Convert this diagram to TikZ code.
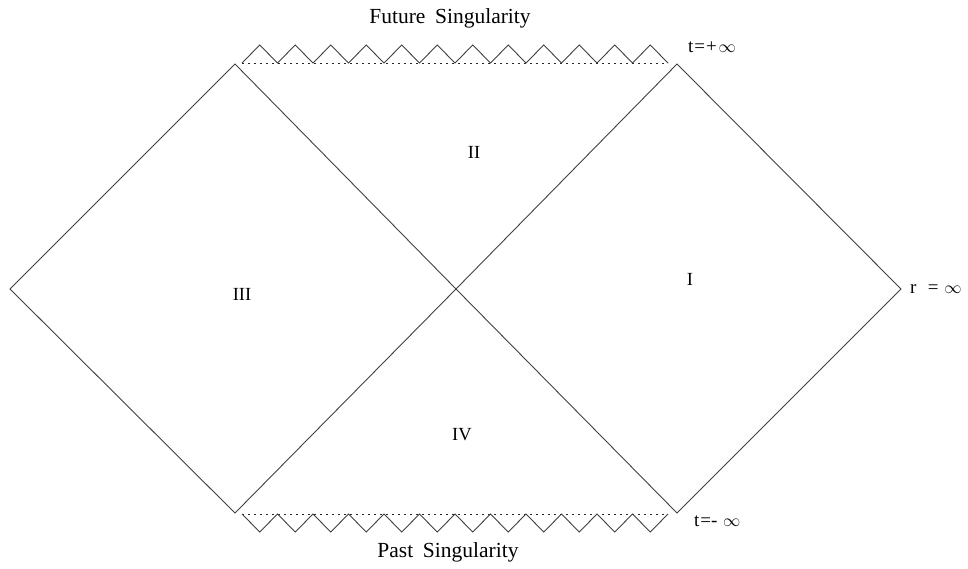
\documentclass[tikz,border=0pt]{standalone}
\usepackage{fontspec}
\setmainfont{Liberation Serif}
\begin{document}
\begin{tikzpicture}[x=1pt,y=-1pt,
  edge/.style={draw=black!75, line width=0.9pt},
  horizon/.style={draw=black!85, line width=1pt, dash pattern=on 1.6pt off 4.4pt},
  region/.style={font=\fontsize{18.5}{21}\selectfont, inner sep=0pt},
  caption/.style={font=\fontsize{21.5}{24}\selectfont, inner sep=0pt},
  tag/.style={font=\fontsize{19}{22}\selectfont, inner sep=0pt, anchor=west}]
\useasboundingbox (0,0) rectangle (968,568);

% corners of the conformal diagram
\coordinate (L)  at (10,289);
\coordinate (TL) at (235,64);
\coordinate (BL) at (235,513);
\coordinate (C)  at (456,289);
\coordinate (TR) at (677,64);
\coordinate (BR) at (677,513);
\coordinate (R)  at (901,289);

% left and right exterior diamonds
\draw[edge] (L) -- (TL) -- (C) -- (BL) -- cycle;
\draw[edge] (C) -- (TR) -- (R) -- (BR) -- cycle;

% singularities: dotted lines with zigzags
\coordinate (FS0) at (242,63);
\coordinate (FS1) at (668,63);
\coordinate (PS0) at (242,514);
\coordinate (PS1) at (668,514);
\draw[horizon] (FS0) -- (FS1);
\draw[horizon] (PS0) -- (PS1);
\draw[edge, line join=miter] (FS0)
  \foreach \i in {0,...,11} { -- ({242+35.5*\i+17.75},45) -- ({242+35.5*(\i+1)},63) };
\draw[edge, line join=miter] (PS0)
  \foreach \i in {0,...,11} { -- ({242+35.5*\i+17.75},532) -- ({242+35.5*(\i+1)},514) };

% region labels
\node[region] (rI)   at (690,279) {I};
\node[region] (rII)  at (474,152) {II};
\node[region] (rIII) at (242,294) {III};
\node[region] (rIV)  at (462,435) {IV};

% boundary labels
\node[caption] (fut) at (450,18) {Future\hspace{0.45em}Singularity};
\node[caption] (pst) at (448,552) {Past\hspace{0.45em}Singularity};
\node[tag] (tp) at (688,47) {t\kern0.05em=\kern0.05em+\kern0.1em$\infty$};
\node[tag] (tm) at (694,521) {t\kern0.05em=-\hspace{0.3em}$\infty$};
\node[tag] (ri) at (910,289) {r\hspace{0.6em}=\hspace{0.3em}$\infty$};
\end{tikzpicture}
\end{document}
